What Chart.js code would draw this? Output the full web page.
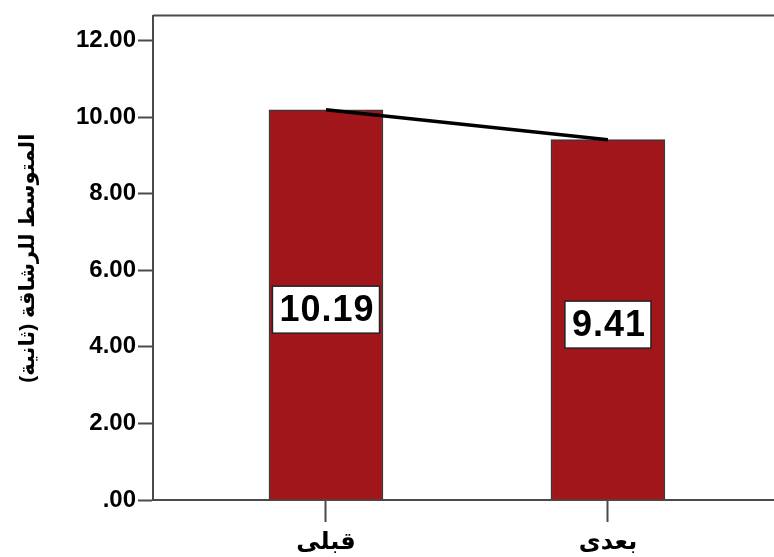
<!DOCTYPE html>
<html>
<head>
<meta charset="utf-8">
<script src="https://cdn.jsdelivr.net/npm/chart.js@4/dist/chart.umd.min.js"></script>
<style>
html,body{margin:0;padding:0;background:#fff;}
#wrap{width:774px;height:557px;position:relative;}
</style>
</head>
<body>
<div id="wrap"><canvas id="c" width="774" height="557"></canvas></div>
<script>
const categories = ["قبلى", "بعدى"];
const means = [10.19, 9.41];
const yTicks = [0, 2, 4, 6, 8, 10, 12];
const yTitle = "المتوسط للرشاقة (ثانية)";

const FONT = "Arial, 'Liberation Sans', 'DejaVu Sans', sans-serif";
const AXIS = "#4a4a4a";

const points = means.map((v, i) => ({x: i + 1, y: v}));

const labelPlugin = {
  id: 'valueBoxes',
  afterDatasetsDraw(chart) {
    const ctx = chart.ctx;
    const meta = chart.getDatasetMeta(1);
    ctx.save();
    ctx.font = "bold 36px " + FONT;
    ctx.letterSpacing = '1px';
    ctx.textAlign = 'center';
    ctx.textBaseline = 'middle';
    meta.data.forEach((bar, i) => {
      const txt = means[i].toFixed(2);
      const cx = bar.x;
      const cy = (bar.y + bar.base) / 2 + 5;
      const w = ctx.measureText(txt).width + 12;
      const h = 47;
      ctx.fillStyle = '#fff';
      ctx.fillRect(cx - w / 2, cy - h / 2, w, h);
      ctx.strokeStyle = '#222';
      ctx.lineWidth = 1.5;
      ctx.strokeRect(cx - w / 2, cy - h / 2, w, h);
      ctx.fillStyle = '#000';
      ctx.fillText(txt, cx + 1, cy + 1);
    });
    ctx.restore();
  },
  afterDraw(chart) {
    const {ctx, chartArea} = chart;
    ctx.save();
    ctx.strokeStyle = AXIS;
    ctx.lineWidth = 2;
    ctx.beginPath();
    ctx.moveTo(chartArea.left, chartArea.top - 1);
    ctx.lineTo(chartArea.right, chartArea.top - 1);
    ctx.stroke();
    ctx.restore();
  }
};

new Chart(document.getElementById('c'), {
  data: {
    datasets: [
      {
        type: 'line',
        data: points,
        borderColor: '#000',
        borderWidth: 3.5,
        pointRadius: 0,
        order: 0
      },
      {
        type: 'bar',
        data: points,
        backgroundColor: '#a0161b',
        borderColor: '#3a3a3a',
        borderWidth: 1.5,
        barThickness: 114,
        order: 1
      }
    ]
  },
  options: {
    responsive: false,
    animation: false,
    layout: {padding: {top: 15, left: 0, right: 0, bottom: 0}},
    plugins: {legend: {display: false}, tooltip: {enabled: false}},
    scales: {
      x: {
        type: 'linear',
        offset: false,
        min: 0.3865,
        max: 2.589,
        afterBuildTicks(scale) { scale.ticks = categories.map((c, i) => ({value: i + 1})); },
        afterFit(scale) { scale.height = 57; },
        ticks: {
          callback: (v) => categories[v - 1] || '',
          color: '#000',
          font: {family: FONT, size: 24, weight: 'bold'},
          padding: 6,
          autoSkip: false,
          maxRotation: 0
        },
        grid: {display: true, offset: false, drawOnChartArea: false, tickLength: 22, tickWidth: 2, tickColor: AXIS},
        border: {color: AXIS, width: 2}
      },
      y: {
        min: 0,
        max: 12.63,
        afterBuildTicks(scale) { scale.ticks = yTicks.map(v => ({value: v})); },
        afterFit(scale) { scale.width = 153; },
        ticks: {
          callback: (v) => v === 0 ? '.00' : Number(v).toFixed(2),
          color: '#000',
          font: {family: FONT, size: 24, weight: 'bold'},
          padding: 2
        },
        grid: {display: true, drawOnChartArea: false, tickLength: 15, tickWidth: 2, tickColor: AXIS},
        border: {color: AXIS, width: 2},
        title: {
          display: true,
          text: yTitle,
          color: '#000',
          font: {family: FONT, size: 21, weight: 'bold'},
          padding: {top: 16, bottom: 0}
        }
      }
    }
  },
  plugins: [labelPlugin]
});
</script>
</body>
</html>
